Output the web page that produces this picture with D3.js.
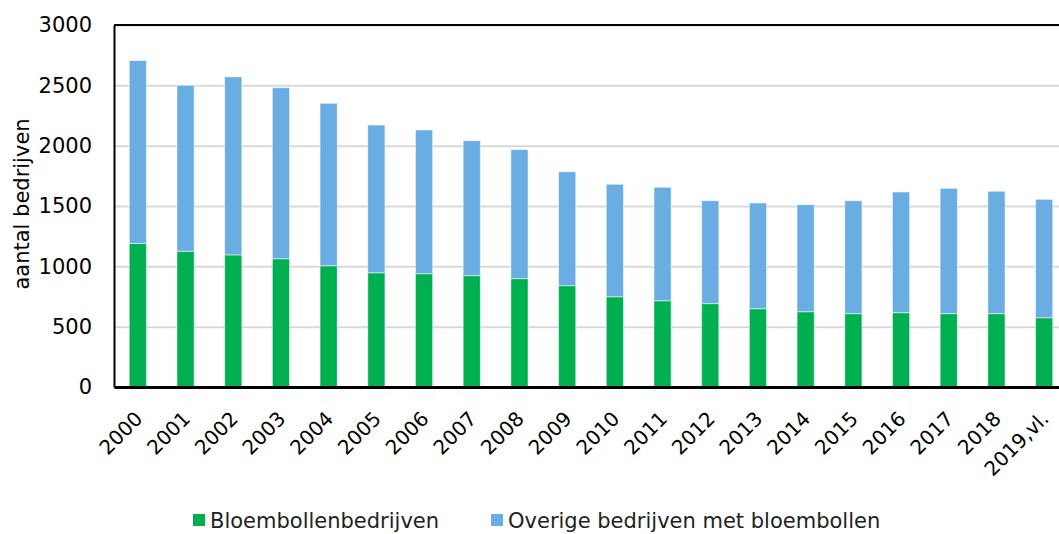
<!DOCTYPE html>
<html>
<head>
<meta charset="utf-8">
<script src="https://cdn.jsdelivr.net/npm/d3@7"></script>
<style>
  body { margin: 0; background: #fff; }
  svg { display: block; }
  svg text { font-family: "DejaVu Sans", Verdana, sans-serif; }
</style>
</head>
<body>
<div id="chart"></div>
<script>
// Jaren (laatste jaar voorlopig)
const years = ['2000', '2001', '2002', '2003', '2004', '2005', '2006', '2007', '2008', '2009',
  '2010', '2011', '2012', '2013', '2014', '2015', '2016', '2017', '2018', '2019,vl.'];
const bloembollen = [1190, 1125, 1095, 1063, 1005, 947, 939, 923, 898, 840,
  748, 715, 691, 649, 624, 608, 616, 608, 608, 574];
const totaal = [2705, 2500, 2570, 2480, 2351, 2171, 2130, 2041, 1967, 1784,
  1680, 1655, 1544, 1525, 1511, 1544, 1616, 1646, 1622, 1555];
const overige = totaal.map((t, i) => t - bloembollen[i]);
const yTicks = [0, 500, 1000, 1500, 2000, 2500, 3000];
const seriesNames = ['Bloembollenbedrijven', 'Overige bedrijven met bloembollen'];
const colors = ['#00b050', '#6aade3'];

const rows = years.map((year, i) => ({ year, bloembollen: bloembollen[i], overige: overige[i] }));

const W = 1059, H = 534;
const margin = { top: 25, right: -9, bottom: 147, left: 114 };
const width = W - margin.left - margin.right;
const height = H - margin.top - margin.bottom;

const svg = d3.select('#chart').append('svg')
  .attr('width', W)
  .attr('height', H);

const g = svg.append('g')
  .attr('transform', `translate(${margin.left},${margin.top})`);

// Scales
const x = d3.scaleBand()
  .domain(years)
  .range([0, width])
  .paddingInner(0.64)
  .paddingOuter(0.32);

const y = d3.scaleLinear()
  .domain([0, 3000])
  .range([height, 0]);

// Grid
g.append('g')
  .call(d3.axisLeft(y).tickValues(yTicks).tickSize(-width).tickFormat(''))
  .call(s => s.select('.domain').remove())
  .selectAll('line')
  .attr('stroke', '#d9d9d9')
  .attr('stroke-width', 2);

// Stacked bars
const stack = d3.stack().keys(['bloembollen', 'overige'])(rows);

g.selectAll('.layer')
  .data(stack)
  .join('g')
  .attr('class', 'layer')
  .attr('fill', (d, i) => colors[i])
  .selectAll('rect')
  .data(d => d)
  .join('rect')
  .attr('x', d => x(d.data.year))
  .attr('y', d => y(d[1]))
  .attr('width', x.bandwidth())
  .attr('height', d => y(d[0]) - y(d[1]))
  .attr('stroke', '#ffffff')
  .attr('stroke-opacity', 0.5)
  .attr('stroke-width', 1);

// Frame line at top
g.append('line')
  .attr('x1', 0).attr('x2', width)
  .attr('y1', 0).attr('y2', 0)
  .attr('stroke', '#000').attr('stroke-width', 2);

// Y axis
const yAxis = g.append('g')
  .call(d3.axisLeft(y).tickValues(yTicks).tickFormat(d3.format('d')).tickSize(0).tickPadding(22));
yAxis.select('.domain').attr('stroke', '#000').attr('stroke-width', 2);
yAxis.selectAll('text')
  .attr('font-size', 21)
  .attr('fill', '#000');

// X axis
const xAxis = g.append('g')
  .attr('transform', `translate(0,${height})`)
  .call(d3.axisBottom(x).tickSize(0).tickPadding(0));
xAxis.select('.domain').attr('stroke', '#000').attr('stroke-width', 3);
xAxis.selectAll('text')
  .attr('font-size', 20)
  .attr('fill', '#000')
  .attr('text-anchor', 'end')
  .attr('y', 0)
  .attr('dy', '0.7em')
  .attr('transform', 'translate(-4,23) rotate(-45)');

// Y axis title
svg.append('text')
  .attr('transform', `translate(29,${margin.top + height / 2 - 2}) rotate(-90)`)
  .attr('text-anchor', 'middle')
  .attr('font-size', 21)
  .attr('fill', '#000')
  .text('aantal bedrijven');

// Legend
const legendX = [193, 491];
const legend = svg.append('g');
seriesNames.forEach((name, i) => {
  legend.append('rect')
    .attr('x', legendX[i]).attr('y', 514)
    .attr('width', 12).attr('height', 12)
    .attr('fill', colors[i]);
  legend.append('text')
    .attr('x', legendX[i] + 17).attr('y', 528)
    .attr('font-size', 21)
    .attr('fill', '#222')
    .text(name);
});
</script>
</body>
</html>
